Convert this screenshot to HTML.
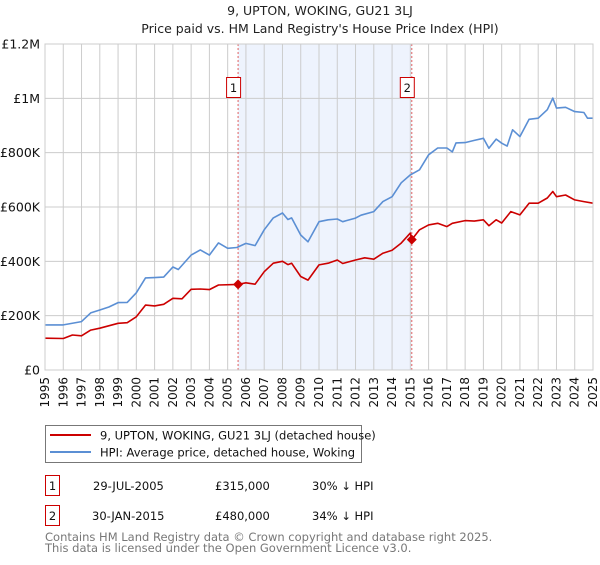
<!DOCTYPE html>
<html><head><meta charset="utf-8"><style>
body{margin:0;background:#fff;font-family:"Liberation Sans","DejaVu Sans",sans-serif;}
svg text{font-family:"DejaVu Sans","Liberation Sans",sans-serif;}
</style></head><body>
<svg id="c" width="600" height="560" xmlns="http://www.w3.org/2000/svg">
<text x="320" y="15" font-size="12.5" text-anchor="middle" fill="#222">9, UPTON, WOKING, GU21 3LJ</text>
<text x="320" y="33" font-size="12.5" text-anchor="middle" fill="#222">Price paid vs. HM Land Registry's House Price Index (HPI)</text>
<g id="plot"></g>
<g>
<rect x="45.5" y="425.5" width="316" height="37" fill="#fff" stroke="#777"/>
<line x1="50" y1="435" x2="91" y2="435" stroke="#cc0000" stroke-width="2"/>
<text x="100" y="439.5" font-size="11.5" fill="#111">9, UPTON, WOKING, GU21 3LJ (detached house)</text>
<line x1="50" y1="452" x2="91" y2="452" stroke="#5b8fd4" stroke-width="2"/>
<text x="100" y="456.5" font-size="11.5" fill="#111">HPI: Average price, detached house, Woking</text>
</g>
<g>
<rect x="45.5" y="475.5" width="14" height="20" fill="#fff" stroke="#c00"/>
<text x="52.5" y="490" font-size="11.5" text-anchor="middle" fill="#111">1</text>
<text x="93" y="490" font-size="11.5" fill="#111">29-JUL-2005</text>
<text x="215" y="490" font-size="11.5" fill="#111">£315,000</text>
<text x="312" y="490" font-size="11.5" fill="#111">30% ↓ HPI</text>
</g>
<g>
<rect x="45.5" y="505.5" width="14" height="20" fill="#fff" stroke="#c00"/>
<text x="52.5" y="520" font-size="11.5" text-anchor="middle" fill="#111">2</text>
<text x="92" y="520" font-size="11.5" fill="#111">30-JAN-2015</text>
<text x="215" y="520" font-size="11.5" fill="#111">£480,000</text>
<text x="312" y="520" font-size="11.5" fill="#111">34% ↓ HPI</text>
</g>
<text x="45" y="541" font-size="11.5" fill="#777">Contains HM Land Registry data © Crown copyright and database right 2025.</text>
<text x="45" y="552" font-size="11.5" fill="#777">This data is licensed under the Open Government Licence v3.0.</text>
</svg>
<script>
const hpiYears=[1995,1996,1997,1997.5,1998,1998.5,1999,1999.5,2000,2000.5,2001,2001.5,2002,2002.3,2003,2003.5,2004,2004.5,2005,2005.5,2006,2006.5,2007,2007.5,2008,2008.3,2008.5,2009,2009.4,2010,2010.5,2011,2011.3,2011.5,2012,2012.3,2013,2013.5,2014,2014.5,2015,2015.5,2016,2016.5,2017,2017.3,2017.5,2018,2018.5,2019,2019.3,2019.7,2020,2020.3,2020.6,2021,2021.5,2022,2022.5,2022.8,2023,2023.5,2024,2024.5,2024.7,2025];
const hpiValues=[166,166,178,210,221,232,248,249,284,339,340,342,379,370,423,442,423,468,448,451,466,458,516,560,578,554,560,497,472,546,553,556,546,550,559,570,583,620,638,689,718,737,792,817,817,803,836,837,845,853,816,850,835,824,884,859,923,927,958,1001,964,967,951,948,927,927];
const propYears=[1995,1996,1996.5,1997,1997.5,1998,1999,1999.5,2000,2000.5,2001,2001.5,2002,2002.5,2003,2003.5,2004,2004.5,2005.57,2006,2006.5,2007,2007.5,2008,2008.3,2008.5,2009,2009.4,2010,2010.5,2011,2011.3,2012,2012.5,2013,2013.5,2014,2014.5,2015.0,2015.08,2015.5,2016,2016.5,2017,2017.3,2018,2018.5,2019,2019.3,2019.7,2020,2020.5,2021,2021.5,2022,2022.5,2022.8,2023,2023.5,2024,2024.5,2025];
const propValues=[117,116,129,126,147,154,172,174,196,239,236,242,264,262,297,298,296,313,315,321,316,362,393,400,388,393,344,331,387,393,405,392,405,413,408,430,441,467,504,480,516,534,540,528,540,550,548,553,531,553,541,583,571,614,614,633,657,638,644,626,620,614];
const saleYears=[2005.57,2015.08];
const saleValues=[315,480];
const saleLabels=["1","2"];
const yTicks=[0,200,400,600,800,1000,1200];
const yTickLabels=["£0","£200K","£400K","£600K","£800K","£1M","£1.2M"];
const xTicks=[1995,1996,1997,1998,1999,2000,2001,2002,2003,2004,2005,2006,2007,2008,2009,2010,2011,2012,2013,2014,2015,2016,2017,2018,2019,2020,2021,2022,2023,2024,2025];

const L=45,R=593,T=44,B=370,X0=1995,X1=2025,YMAX=1200;
const xs=v=>L+(v-X0)/(X1-X0)*(R-L);
const ys=v=>B-v/YMAX*(B-T);
const NS="http://www.w3.org/2000/svg";
const g=document.getElementById('plot');
function mk(t,a){const e=document.createElementNS(NS,t);for(const k in a)e.setAttribute(k,a[k]);g.appendChild(e);return e;}

const shade=mk('rect',{x:xs(saleYears[0]),y:T,width:xs(saleYears[1])-xs(saleYears[0]),height:B-T,fill:'#eef3fd'});


xTicks.forEach(t=>{
  const l=mk('line',{x1:xs(t),x2:xs(t),y1:T,y2:B,stroke:'#cccccc','stroke-width':1});
  
  
  const tx=mk('text',{x:0,y:0,'font-size':12,fill:'#111','text-anchor':'end',transform:`translate(${xs(t)+4},${B+7}) rotate(-90)`});
  tx.textContent=t;
  
  
});
yTicks.forEach((t,i)=>{
  const l=mk('line',{x1:L,x2:R,y1:ys(t),y2:ys(t),stroke:'#cccccc','stroke-width':1});
  
  
  const tx=mk('text',{x:L-5,y:ys(t)+4.5,'font-size':12.5,fill:'#111','text-anchor':'end'});
  tx.textContent=yTickLabels[i];
  
  
});
saleYears.forEach((s,i)=>{
  const l=mk('line',{x1:xs(s),x2:xs(s),y1:T,y2:B,stroke:'#e06060','stroke-width':1,'stroke-dasharray':'2,2'});
  
  
});
function path(xv,yv,col,name){
  const d=xv.map((x,i)=>(i?'L':'M')+xs(x).toFixed(1)+','+ys(yv[i]).toFixed(1)).join('');
  const p=mk('path',{d:d,fill:'none',stroke:col,'stroke-width':1.6,'stroke-linejoin':'round'});
  
  
}
path(hpiYears,hpiValues,'#5b8fd4','hpi-line');
path(propYears,propValues,'#cc0000','property-line');
saleYears.forEach((s,i)=>{
  const x=xs(s),y=ys(saleValues[i]);
  const d=mk('path',{d:`M${x},${y-5}L${x+5},${y}L${x},${y+5}L${x-5},${y}Z`,fill:'#cc0000'});
  
  
  const b=mk('rect',{x:x-11.5,y:77.5,width:14,height:20,fill:'#fff',stroke:'#c00'});
  
  
  const t=mk('text',{x:x-4.5,y:92,'font-size':11.5,'text-anchor':'middle',fill:'#111'});
  t.textContent=saleLabels[i];
  
  
});
const fr=mk('rect',{x:L,y:T,width:R-L,height:B-T,fill:'none',stroke:'#cccccc'});


</script>
</body></html>
